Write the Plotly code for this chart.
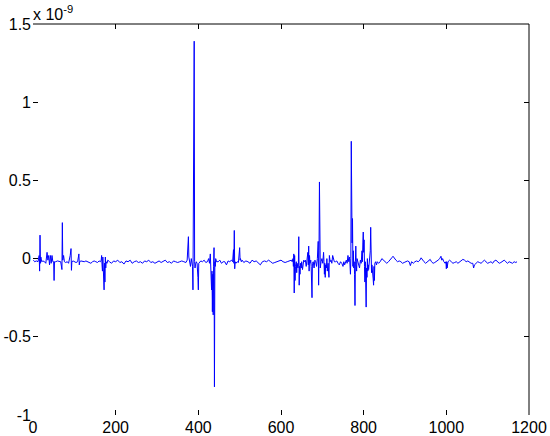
import plotly.graph_objects as go

# sample index and signal value (in units of 1e-9)
sample = [
    1, 4, 8, 12, 15, 16, 17, 18, 19, 21, 24, 28, 31, 34, 36, 38, 40, 42, 44, 46,
    48, 50, 51, 52, 55, 59, 63, 67, 70, 71, 72, 74, 76, 79, 83, 86, 88, 90, 92, 93,
    94, 97, 100, 104, 108, 111, 112, 113, 116, 120, 124, 128, 132, 136, 140, 144, 148, 152, 156, 160,
    163, 165, 166, 167, 168, 169, 170, 171, 172, 173, 174, 175, 176, 177, 179, 181, 185, 190, 195, 200,
    205, 210, 215, 220, 225, 230, 235, 240, 245, 250, 255, 260, 265, 270, 275, 280, 285, 290, 295, 300,
    305, 310, 315, 320, 325, 330, 335, 340, 345, 350, 355, 360, 365, 370, 373, 375, 376, 377, 379, 381,
    383, 385, 386, 387, 388, 390, 391, 392, 393, 395, 397, 399, 400, 401, 403, 406, 410, 414, 418, 422,
    425, 427, 429, 430, 431, 432, 433, 434, 435, 436, 437, 438, 439, 440, 441, 442, 444, 448, 452, 456,
    460, 464, 468, 472, 476, 480, 483, 485, 486, 487, 488, 489, 491, 494, 497, 500, 501, 502, 504, 506,
    510, 515, 520, 525, 530, 535, 540, 545, 550, 555, 560, 565, 570, 575, 580, 585, 590, 595, 600, 605,
    610, 615, 620, 625, 627, 629, 630, 631, 632, 633, 634, 635, 637, 638, 639, 641, 642, 643, 644, 645,
    646, 647, 649, 650, 652, 653, 655, 657, 659, 661, 663, 665, 666, 667, 668, 669, 670, 672, 673, 675,
    676, 678, 680, 682, 684, 686, 688, 690, 691, 692, 693, 694, 695, 697, 699, 701, 703, 704, 705, 706,
    707, 708, 710, 711, 712, 714, 716, 717, 719, 721, 723, 725, 727, 729, 732, 735, 738, 741, 744, 747,
    750, 752, 754, 756, 758, 760, 762, 764, 766, 768, 769, 770, 771, 772, 773, 774, 775, 776, 777, 778,
    779, 780, 781, 782, 783, 784, 786, 788, 790, 792, 794, 796, 797, 798, 799, 800, 801, 802, 803, 804,
    805, 806, 807, 808, 809, 810, 811, 812, 814, 816, 817, 818, 819, 820, 822, 823, 824, 825, 826, 827,
    829, 831, 833, 836, 840, 844, 848, 852, 856, 860, 864, 868, 871, 874, 878, 882, 886, 890, 894, 898,
    902, 906, 910, 913, 916, 920, 924, 928, 932, 936, 939, 942, 946, 950, 954, 958, 961, 964, 968, 972,
    976, 980, 984, 987, 989, 991, 994, 997, 999, 1000, 1001, 1002, 1004, 1008, 1012, 1016, 1020, 1024, 1028, 1032,
    1036, 1040, 1044, 1048, 1052, 1056, 1060, 1064, 1066, 1068, 1072, 1076, 1080, 1084, 1088, 1092, 1096, 1100, 1104, 1108,
    1112, 1116, 1120, 1124, 1128, 1132, 1136, 1140, 1144, 1148, 1152, 1156, 1160, 1164, 1168, 1171,
]
signal_e9 = [
    -0.01, -0.02, -0.015, -0.02, 0.02, -0.08, 0.15, -0.03, 0.01, -0.02, -0.015, -0.02, -0.03, 0.04, -0.01, 0.02, -0.04, 0.02, -0.03, 0.02,
    -0.02, -0.02, -0.14, -0.02, -0.02, -0.015, -0.02, -0.02, -0.07, 0.23, -0.01, 0.02, -0.02, -0.025, -0.02, -0.03, -0.01, 0.02, 0.064, -0.075,
    -0.02, -0.015, -0.02, -0.025, -0.02, 0.03, -0.04, -0.02, -0.015, -0.02, -0.02, -0.015, -0.02, -0.02, -0.03, -0.02, -0.015, -0.02, -0.025, -0.015,
    -0.02, -0.01, 0.02, -0.04, -0.08, 0.01, -0.12, -0.05, -0.20, -0.03, -0.15, 0.01, -0.06, -0.02, -0.03, -0.01, -0.02, -0.03, -0.015, -0.02,
    -0.01, -0.025, -0.02, -0.035, -0.015, -0.02, -0.01, -0.03, -0.02, -0.015, -0.025, -0.02, -0.03, -0.015, -0.02, -0.01, -0.025, -0.02, -0.03, -0.02,
    -0.015, -0.025, -0.02, -0.01, -0.025, -0.02, -0.03, -0.015, -0.02, -0.025, -0.02, -0.015, -0.02, -0.025, -0.01, 0.06, 0.14, 0.01, -0.02, -0.05,
    0.0, -0.04, -0.05, -0.2, 0.6, 1.39, -0.02, -0.06, -0.04, -0.02, -0.03, -0.12, -0.2, -0.03, -0.02, -0.015, -0.02, -0.01, -0.025, -0.02,
    0.0, -0.03, 0.03, -0.1, -0.03, -0.2, -0.08, -0.34, -0.1, -0.36, -0.05, 0.07, -0.82, -0.02, -0.05, 0.0, -0.02, -0.02, -0.01, -0.03,
    -0.02, -0.02, -0.04, -0.015, -0.02, -0.01, -0.02, 0.057, -0.03, 0.18, -0.065, -0.02, -0.03, -0.02, -0.025, 0.07, -0.01, 0.0, -0.02, -0.01,
    -0.025, -0.015, -0.02, -0.03, -0.01, -0.02, -0.015, -0.025, -0.04, -0.02, -0.015, -0.02, -0.01, -0.02, -0.03, -0.025, -0.02, -0.015, -0.01, -0.02,
    -0.025, -0.02, -0.015, -0.01, -0.02, 0.0, -0.05, 0.03, -0.22, 0.02, -0.14, -0.05, -0.02, -0.09, -0.03, -0.06, -0.04, 0.14, -0.17, -0.05,
    -0.1, -0.03, -0.06, -0.02, -0.07, -0.03, -0.01, -0.02, -0.01, -0.05, 0.0, 0.04, -0.04, 0.08, -0.08, 0.02, -0.03, -0.01, -0.05, -0.25,
    -0.03, -0.02, -0.06, -0.01, -0.02, -0.05, 0.0, 0.11, -0.17, 0.05, 0.49, -0.03, -0.06, -0.02, 0.0, -0.03, 0.04, -0.02, -0.1, -0.03,
    -0.12, -0.04, -0.06, 0.0, -0.08, -0.03, -0.12, 0.02, -0.02, -0.01, -0.03, 0.02, -0.01, -0.02, -0.02, -0.015, -0.03, -0.04, -0.02, -0.03,
    -0.05, -0.02, -0.04, -0.02, -0.01, -0.03, 0.02, -0.02, 0.01, -0.1, 0.0, 0.75, 0.34, 0.1, 0.256, -0.05, 0.05, -0.06, -0.02, -0.1,
    -0.3, -0.02, 0.08, -0.04, -0.08, 0.0, -0.02, -0.04, -0.06, -0.01, -0.03, 0.05, -0.02, 0.1, 0.17, 0.04, 0.12, -0.05, -0.15, -0.02,
    -0.1, -0.31, -0.06, -0.12, 0.0, -0.08, -0.04, -0.07, -0.02, 0.05, 0.2, -0.03, -0.09, -0.04, -0.08, -0.13, -0.17, -0.05, -0.14, -0.03,
    -0.02, -0.04, -0.02, -0.03, -0.02, 0.0, -0.01, -0.025, -0.03, -0.02, -0.01, 0.005, 0.015, 0.0, -0.01, -0.02, -0.015, -0.02, -0.03, -0.025,
    -0.02, -0.015, -0.02, -0.045, -0.02, -0.03, -0.02, -0.015, -0.02, -0.01, 0.005, -0.01, -0.02, -0.03, -0.02, -0.015, -0.005, -0.02, -0.03, -0.025,
    -0.02, -0.01, 0.0, 0.015, -0.01, 0.0, -0.02, -0.03, -0.02, -0.065, -0.02, -0.06, -0.02, -0.01, -0.02, -0.03, -0.025, -0.02, -0.03, -0.02,
    -0.015, -0.005, -0.01, -0.02, -0.015, -0.025, -0.03, -0.03, -0.06, -0.04, -0.03, -0.02, -0.025, -0.03, -0.02, -0.01, -0.02, -0.03, -0.025, -0.02,
    -0.03, -0.015, -0.01, -0.02, -0.03, -0.025, -0.02, -0.01, -0.02, -0.03, -0.02, -0.025, -0.03, -0.02, -0.025, -0.02,
]

x_ticks = [0, 200, 400, 600, 800, 1000, 1200]
y_ticks = [-1, -0.5, 0, 0.5, 1, 1.5]
y_ticktext = ["-1", "-0.5", "0", "0.5", "1", "1.5"]

font = dict(family="Liberation Sans, Arial, sans-serif", size=16, color="black")

fig = go.Figure()
fig.add_trace(go.Scatter(
    x=sample, y=signal_e9, mode="lines",
    line=dict(color="#0000ff", width=1), hoverinfo="skip",
))

fig.update_layout(
    width=550, height=436,
    margin=dict(l=33, r=21, t=24, b=21),
    paper_bgcolor="white", plot_bgcolor="white",
    showlegend=False, font=font,
    xaxis=dict(range=[0, 1200], tickvals=x_ticks, ticks="inside", ticklen=5,
               tickcolor="black", mirror="ticks", showline=False, showgrid=False,
               zeroline=False, ticklabelstandoff=1, automargin=False),
    yaxis=dict(range=[-1, 1.5], tickvals=y_ticks, ticktext=y_ticktext, ticks="inside",
               ticklen=5, tickcolor="black", mirror="ticks", showline=False,
               showgrid=False, zeroline=False, ticklabelstandoff=1, automargin=False),
    shapes=[
        dict(type="line", xref="paper", yref="paper", x0=0, x1=1, y0=1, y1=1,
             line=dict(color="black", width=1)),
        dict(type="line", xref="paper", yref="paper", x0=1, x1=1, y0=0, y1=1,
             line=dict(color="black", width=1)),
    ],
    annotations=[dict(
        text="x 10<sup>-9</sup>", xref="paper", yref="paper", x=-0.004, y=1,
        xanchor="left", yanchor="bottom", showarrow=False, yshift=-1,
        font=dict(family="Liberation Sans, Arial, sans-serif", size=16, color="black"),
    )],
)

# the page's default body margin would push the 550x436 figure off its window
fig.write_html("out.html", config={"displayModeBar": False},
               post_script="document.body.style.margin='0';")
